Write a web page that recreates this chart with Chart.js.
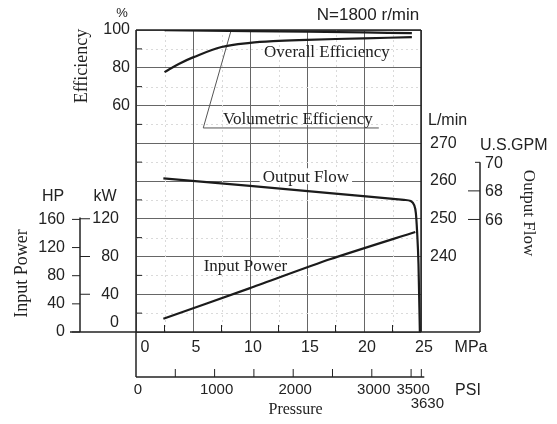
<!DOCTYPE html>
<html>
<head>
<meta charset="utf-8">
<script src="https://cdn.jsdelivr.net/npm/chart.js@4"></script>
<style>
  html, body { margin: 0; padding: 0; background: #fff; }
  #wrap { width: 557px; height: 424px; }
</style>
</head>
<body>
<div id="wrap"><canvas id="chart"></canvas></div>
<script>
// curves (x = pressure in MPa)
const overallPress = [2.5, 3.75, 5, 7.5, 10, 12.5, 15, 20, 24.2];
const overallEff   = [77.7, 82, 85.5, 91, 93.2, 94.2, 94.8, 95.6, 96.2];

const volPress = [2.5, 10, 20, 24.2];
const volEff   = [99.9, 99.4, 98.7, 98.3];

const flowPress = [2.4, 10, 17, 23.5, 24.1, 24.4, 24.55, 24.65, 24.78, 24.9];
const flowLmin  = [260.7, 258.7, 256.8, 255.0, 254.7, 253.6, 251.5, 247, 238, 220];

const powerPress = [2.4, 10, 17, 24.5];
const powerKW    = [14, 46.5, 77, 106];

// leader + underline of the "Volumetric Efficiency" note
const leaderPress = [21.3, 5.9, 8.3];
const leaderEff   = [48.1, 48.1, 98.9];

// tick labels
const mpaTicks  = [0, 5, 10, 15, 20, 25];
const effTicks  = [60, 80, 100];
const lminTicks = [240, 250, 260, 270];
const gpmTicks  = [66, 68, 70];
const kwTicks   = [0, 40, 80, 120];
const hpTicks   = [0, 40, 80, 120, 160];
const psiTicks  = [0, 1000, 2000, 3000, 3500];
const psiMarks  = [500, 1000, 1500, 2000, 2500, 3000, 3500, 3630];

const PSI_PER_MPA = 145.04;
const LMIN_PER_GPM = 3.785;
const KW_PER_HP = 0.7457;

const SANS = '"Liberation Sans", Arial, sans-serif';
const SERIF = '"Liberation Serif", "Times New Roman", serif';
const INK = '#222';
const GRID = '#666';

function pts(xs, ys) { return xs.map((v, i) => ({ x: v, y: ys[i] })); }

function seg(ctx, x1, y1, x2, y2) {
  ctx.beginPath(); ctx.moveTo(x1, y1); ctx.lineTo(x2, y2); ctx.stroke();
}

function label(ctx, s, x, y, font, align, rot) {
  ctx.save();
  ctx.font = font;
  ctx.fillStyle = INK;
  ctx.textAlign = align || 'center';
  ctx.textBaseline = 'middle';
  ctx.translate(x, y);
  if (rot) ctx.rotate(rot);
  ctx.fillText(s, 0, 0);
  ctx.restore();
}

const decor = {
  id: 'decor',
  beforeDatasetsDraw(chart) {
    const { ctx, chartArea: a, scales } = chart;
    const x = scales.x, yE = scales.yEff, yF = scales.yFlow, yP = scales.yPow;
    ctx.save();
    // faint half-step grid
    ctx.strokeStyle = '#dadada'; ctx.lineWidth = 1; ctx.setLineDash([2, 3]);
    for (let v = 2.5; v < 25; v += 5) {
      const px = Math.round(x.getPixelForValue(v)) + 0.5;
      seg(ctx, px, a.top, px, a.bottom);
    }
    for (let v = -50; v < 100; v += 20) {
      const py = Math.round(yE.getPixelForValue(v)) + 0.5;
      seg(ctx, a.left, py, a.right, py);
    }
    ctx.setLineDash([]);

    // frame
    ctx.strokeStyle = INK; ctx.lineWidth = 1.5;
    seg(ctx, a.left, a.top, a.right, a.top);
    seg(ctx, a.left, a.top, a.left, a.bottom);
    seg(ctx, a.right, a.top, a.right, a.bottom);

    // small inner ticks
    ctx.lineWidth = 1;
    for (let v = 2.5; v < 25; v += 5) {
      const px = x.getPixelForValue(v);
      seg(ctx, px, a.bottom, px, a.bottom - 7);
    }
    for (let v = -50; v < 100; v += 20) {
      const py = yE.getPixelForValue(v);
      seg(ctx, a.left, py, a.left + 6, py);
    }

    // curve labels
    const f = '17px ' + SERIF;
    label(ctx, 'Overall Efficiency', x.getPixelForValue(16.75), yE.getPixelForValue(87.8), f);
    label(ctx, 'Volumetric Efficiency', x.getPixelForValue(14.2), yE.getPixelForValue(52.8), f);
    ctx.font = f;
    const ofx = x.getPixelForValue(14.9), ofy = yF.getPixelForValue(261);
    const w = ctx.measureText('Output Flow').width;
    ctx.fillStyle = '#fff';
    ctx.fillRect(ofx - w / 2 - 3, ofy - 9, w + 6, 16);
    label(ctx, 'Output Flow', ofx, ofy, f);
    label(ctx, 'Input Power', x.getPixelForValue(9.6), yP.getPixelForValue(69), f);
    ctx.restore();
  },
  afterDraw(chart) {
    const { ctx, chartArea: a, scales } = chart;
    const x = scales.x, yF = scales.yFlow, yP = scales.yPow;
    const num = '16px ' + SANS;
    ctx.save();
    ctx.strokeStyle = INK; ctx.lineWidth = 1.5;

    const hpX = a.left - 56;
    const gpmX = a.right + 59;
    const psiY = a.bottom + 45;

    // base line running under all the axes
    seg(ctx, hpX - 10, a.bottom, gpmX, a.bottom);

    // HP / kW axis
    const powTop = yP.getPixelForValue(160 * KW_PER_HP) - 2;
    seg(ctx, hpX, powTop, hpX, a.bottom);
    ctx.lineWidth = 1;
    hpTicks.forEach(v => {
      const py = yP.getPixelForValue(v * KW_PER_HP);
      seg(ctx, hpX - 8, py, hpX, py);
      label(ctx, String(v), hpX - 15, py, num, 'right');
    });
    kwTicks.forEach(v => {
      const py = yP.getPixelForValue(v);
      if (v > 0) seg(ctx, hpX, py, hpX + 10, py);
      label(ctx, String(v), hpX + 39, v === 0 ? py - 9 : py, num, 'right');
    });
    label(ctx, 'HP', hpX - 27, a.bottom - 135, num);
    label(ctx, 'kW', hpX + 25, a.bottom - 135, num);
    label(ctx, 'Input Power', 22, yP.getPixelForValue(62), '18px ' + SERIF, 'center', -Math.PI / 2);

    // U.S.GPM axis
    ctx.lineWidth = 1.5;
    const gTop = yF.getPixelForValue(70 * LMIN_PER_GPM);
    seg(ctx, gpmX, gTop, gpmX, a.bottom);
    ctx.lineWidth = 1;
    gpmTicks.forEach(v => {
      const py = yF.getPixelForValue(v * LMIN_PER_GPM);
      seg(ctx, gpmX - (v === 70 ? 5 : 12), py, gpmX, py);
      label(ctx, String(v), gpmX + 5, py + 1, num, 'left');
    });
    label(ctx, 'L/min', a.right + 7, yF.getPixelForValue(275.9), num, 'left');
    label(ctx, 'U.S.GPM', gpmX, yF.getPixelForValue(269.5), num, 'left');
    label(ctx, 'Output Flow', gpmX + 48, yF.getPixelForValue(251.5), '17px ' + SERIF, 'center', Math.PI / 2);

    // MPa labels
    mpaTicks.forEach(v => {
      const px = x.getPixelForValue(v) + (v === 0 ? 9 : 3);
      label(ctx, String(v), px, a.bottom + 16, num);
    });
    label(ctx, 'MPa', gpmX - 9, a.bottom + 16, num);

    // PSI axis
    ctx.lineWidth = 1.5;
    const psiEnd = x.getPixelForValue(3630 / PSI_PER_MPA) + 3;
    seg(ctx, a.left, a.bottom, a.left, psiY);
    seg(ctx, a.left, psiY, psiEnd, psiY);
    ctx.lineWidth = 1;
    psiMarks.forEach(v => {
      const px = x.getPixelForValue(v / PSI_PER_MPA);
      seg(ctx, px, psiY, px, psiY - 8);
    });
    psiTicks.forEach(v => {
      label(ctx, String(v), x.getPixelForValue(v / PSI_PER_MPA) + 2, psiY + 13, '15px ' + SANS);
    });
    label(ctx, '3630', x.getPixelForValue(3630 / PSI_PER_MPA) + 6, psiY + 27, '15px ' + SANS);
    label(ctx, 'PSI', gpmX - 12, psiY + 14, num);
    label(ctx, 'Pressure', x.getPixelForValue(14), psiY + 33, '16px ' + SERIF);

    // efficiency titles
    label(ctx, '%', a.left - 14, a.top - 17, '13px ' + SANS);
    label(ctx, 'Efficiency', a.left - 54, a.top + 36, '18px ' + SERIF, 'center', -Math.PI / 2);
    label(ctx, 'N=1800 r/min', a.right - 53, a.top - 15, '17px ' + SANS);
    ctx.restore();
  }
};

const lineStyle = { borderColor: '#1b1b1b', borderWidth: 2.2, pointRadius: 0, fill: false };

new Chart(document.getElementById('chart'), {
  type: 'line',
  data: {
    datasets: [
      Object.assign({ label: 'Overall Efficiency', data: pts(overallPress, overallEff), yAxisID: 'yEff', tension: 0.35 }, lineStyle),
      Object.assign({ label: 'Volumetric Efficiency', data: pts(volPress, volEff), yAxisID: 'yEff', tension: 0.3 }, lineStyle),
      Object.assign({ label: 'Output Flow', data: pts(flowPress, flowLmin), yAxisID: 'yFlow', cubicInterpolationMode: 'monotone' }, lineStyle),
      Object.assign({ label: 'Input Power', data: pts(powerPress, powerKW), yAxisID: 'yPow', tension: 0.2 }, lineStyle),
      { label: 'leader', data: pts(leaderPress, leaderEff), yAxisID: 'yEff', borderColor: '#555', borderWidth: 1, pointRadius: 0, fill: false }
    ]
  },
  options: {
    responsive: true,
    maintainAspectRatio: false,
    animation: false,
    events: [],
    layout: { padding: { left: 96, right: 96, top: 30, bottom: 92 } },
    plugins: { legend: { display: false }, tooltip: { enabled: false } },
    scales: {
      x: {
        type: 'linear', min: 0, max: 25, position: 'bottom',
        ticks: { display: false, stepSize: 5 },
        grid: { drawTicks: false, color: GRID, lineWidth: 1 },
        border: { display: false },
        afterFit: s => { s.height = 0; }
      },
      yEff: {
        position: 'left', min: -60, max: 100,
        ticks: {
          stepSize: 20, autoSkip: false, padding: 6, color: INK,
          font: { family: SANS, size: 16 },
          callback: v => effTicks.includes(v) ? String(v) : ''
        },
        grid: { drawTicks: false, color: GRID, lineWidth: 1 },
        border: { display: false },
        afterFit: s => { s.width = 40; }
      },
      yFlow: {
        position: 'right', min: 220, max: 300,
        ticks: {
          stepSize: 10, autoSkip: false, padding: 9, color: INK,
          font: { family: SANS, size: 16 },
          callback: v => lminTicks.includes(v) ? String(v) : ''
        },
        grid: { display: false, drawTicks: false },
        border: { display: false },
        afterFit: s => { s.width = 40; }
      },
      yPow: { display: false, min: 0, max: 320 }
    }
  },
  plugins: [decor]
});
</script>
</body>
</html>
